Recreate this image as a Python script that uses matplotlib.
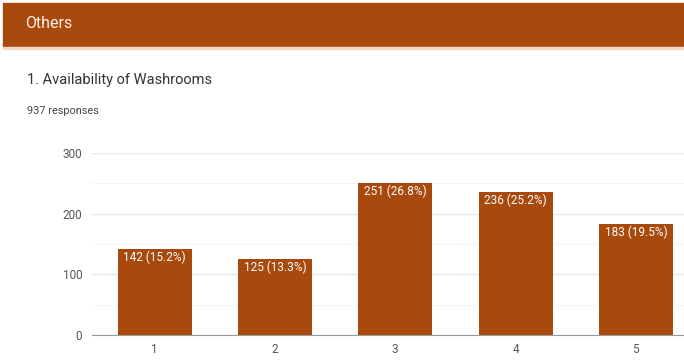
import matplotlib.pyplot as plt
from matplotlib.patches import Rectangle
from matplotlib.ticker import MultipleLocator

# Data
categories = ['1', '2', '3', '4', '5']
counts = [142, 125, 251, 236, 183]
percents = [15.2, 13.3, 26.8, 25.2, 19.5]

plt.rcParams['font.family'] = ['Roboto', 'DejaVu Sans']

fig = plt.figure(figsize=(6.84, 3.62), dpi=100)

# header band
fig.patches.append(Rectangle((3/684, 1-47/362), 1, 44/362, transform=fig.transFigure,
                             color='#A8490E', zorder=0))
fig.patches.append(Rectangle((3/684, 1-49/362), 1, 2/362, transform=fig.transFigure,
                             color='#F2D9C6', zorder=0))
fig.text(25/684, 1-23/362, 'Others', color='#FBEFE6', fontsize=11.5, va='center')
fig.text(27/684, 1-80/362, '1. Availability of Washrooms', color='#333333', fontsize=10.5, va='center')
fig.text(27/684, 1-111/362, '937 responses', color='#444444', fontsize=7.8, va='center')

# chart
ax = fig.add_axes([92/684, 1-335/362, 1-92/684, 182/362])
x = range(len(categories))
bars = ax.bar(x, counts, width=0.615, color='#A8490E', zorder=2)
for b, c, p in zip(bars, counts, percents):
    ax.text(b.get_x() + b.get_width()/2, c - 3, f'{c} ({p}%)', ha='center', va='top',
            color='white', fontsize=8.5, zorder=3)

ax.set_xlim(-0.52, 4.4)
ax.set_ylim(0, 300)
ax.set_xticks(list(x))
ax.set_xticklabels(categories)
ax.yaxis.set_major_locator(MultipleLocator(100))
ax.yaxis.set_minor_locator(MultipleLocator(50))
ax.grid(axis='y', which='major', color='#E6E6E6', linewidth=0.9, zorder=0)
ax.grid(axis='y', which='minor', color='#F4F4F4', linewidth=0.7, zorder=0)
ax.tick_params(axis='both', which='both', length=0, labelsize=8.5, labelcolor='#555555')
ax.tick_params(axis='y', pad=7)
ax.tick_params(axis='x', pad=6)
for s in ['top', 'right', 'left']:
    ax.spines[s].set_visible(False)
ax.spines['bottom'].set_color('#999999')
ax.spines['bottom'].set_zorder(4)

fig.savefig('out.png', dpi=100)
